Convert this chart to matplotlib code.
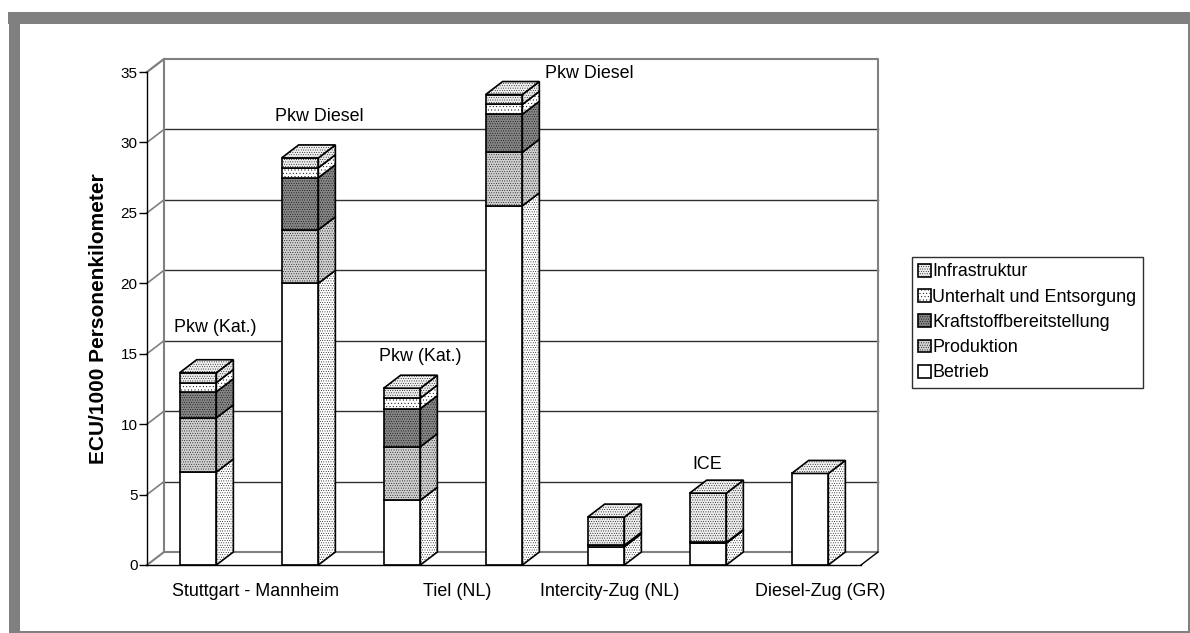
import matplotlib
matplotlib.use('Agg')
import matplotlib.pyplot as plt
import numpy as np
from matplotlib.patches import Patch, Polygon, Rectangle

plt.rcParams['font.family'] = ['Liberation Sans', 'DejaVu Sans']
plt.rcParams['hatch.linewidth'] = 0.3

# values
series_names = ['Betrieb', 'Produktion', 'Kraftstoffbereitstellung', 'Unterhalt und Entsorgung', 'Infrastruktur']
betrieb = [6.6, 20.0, 4.6, 25.5, 1.3, 1.55, 6.5]
produktion = [3.85, 3.8, 3.8, 3.8, 0.1, 0.05, 0]
kraftstoff = [1.85, 3.7, 2.7, 2.7, 0, 0, 0]
unterhalt = [0.65, 0.7, 0.75, 0.7, 0, 0, 0]
infrastruktur = [0.7, 0.7, 0.7, 0.7, 2.0, 3.5, 0]

yticks = [0, 5, 10, 15, 20, 25, 30, 35]
cat_labels = ['Stuttgart - Mannheim', 'Tiel (NL)', 'Intercity-Zug (NL)', 'Diesel-Zug (GR)']
cat_pos = [0.56, 2.54, 4.04, 6.10]
note_labels = ['Pkw (Kat.)', 'Pkw Diesel', 'Pkw (Kat.)', 'Pkw Diesel', 'ICE']
note_x = [0.167, 1.19, 2.18, 3.84, 4.99]
note_y = [16.85, 31.85, 14.8, 34.9, 7.1]

face_colors = ['white', '#cfcfcf', '#858585', 'white', '#ececec']
front_hatch = [None, '.......', '.......', '.....', '.......']
side_hatch = ['.......', '.......', '.......', '.....', '.......']

W, H = 1190, 633
fig = plt.figure(figsize=(W / 100, H / 100), dpi=100)

# grey frame
for x0, y0, w, h in [(8, 609, 1182, 12), (9, 0, 11, 621), (1188, 0, 2, 621), (9, 0, 1181, 2)]:
    fig.add_artist(Rectangle((x0 / W, y0 / H), w / W, h / H, transform=fig.transFigure,
                             facecolor='#808080', edgecolor='none'))

ax = fig.add_axes([147 / W, (H - 565) / H, 714 / W, 493 / H])
ax.set_xlim(-0.5, 6.5)
ax.set_ylim(0, 35)
ax.set_facecolor('none')

dx = 17 / 102.0
dy = 13 / 14.086
bw = 0.36
x = np.arange(7)
wall = '#808080'

# back wall, floor and gridlines
for v in yticks[1:-1]:
    ax.plot([-0.5 + dx, 6.5 + dx], [v + dy, v + dy], color='#303030', lw=1, clip_on=False, zorder=1)
    ax.plot([-0.5, -0.5 + dx], [v, v + dy], color=wall, lw=1.2, clip_on=False, zorder=1)
ax.plot([-0.5, -0.5 + dx, 6.5 + dx, 6.5 + dx, -0.5 + dx, -0.5 + dx],
        [35, 35 + dy, 35 + dy, dy, dy, 35 + dy], color=wall, lw=1.5, clip_on=False, zorder=1)
ax.plot([-0.5, -0.5 + dx], [35, 35 + dy], color=wall, lw=1.2, clip_on=False, zorder=1)
ax.plot([-0.5, -0.5 + dx], [0, dy], color=wall, lw=1.5, clip_on=False, zorder=1)
ax.plot([6.5, 6.5 + dx], [0, dy], color='black', lw=1, clip_on=False, zorder=1)

# stacked 3d bars
all_series = [betrieb, produktion, kraftstoff, unterhalt, infrastruktur]
bottom = np.zeros(7)
for k, vals in enumerate(all_series):
    vals = np.array(vals, dtype=float)
    for i in x:
        if vals[i] == 0:
            continue
        b = bottom[i]
        t = b + vals[i]
        xr = i + bw / 2
        ax.add_patch(Polygon([(xr, b), (xr + dx, b + dy), (xr + dx, t + dy), (xr, t)],
                             facecolor=face_colors[k], hatch=side_hatch[k], edgecolor='black',
                             lw=1.2, zorder=3, clip_on=False))
    ax.bar(x, vals, bw, bottom=bottom, color=face_colors[k], hatch=front_hatch[k],
           edgecolor='black', linewidth=1.2, zorder=4)
    bottom = bottom + vals

# top faces
for i in x:
    t = bottom[i]
    xl, xr = i - bw / 2, i + bw / 2
    ax.add_patch(Polygon([(xl, t), (xr, t), (xr + dx, t + dy), (xl + dx, t + dy)],
                         facecolor='#f0f0f0', hatch='.......', edgecolor='black',
                         lw=1.2, zorder=5, clip_on=False))

for s in ['top', 'right']:
    ax.spines[s].set_visible(False)
ax.spines['left'].set_linewidth(1)
ax.spines['bottom'].set_linewidth(1)
ax.spines['bottom'].set_zorder(6)

ax.set_yticks(yticks)
ax.tick_params(axis='y', length=5.8, width=1, labelsize=11, pad=1)
ax.set_xticks(cat_pos)
ax.set_xticklabels(cat_labels)
ax.tick_params(axis='x', length=0, labelsize=12.9, pad=13)
ax.set_ylabel('ECU/1000 Personenkilometer', fontsize=15, fontweight='bold', labelpad=9)

for lab, nx, ny in zip(note_labels, note_x, note_y):
    ax.text(nx, ny, lab, ha='center', va='center', fontsize=12.9, zorder=7, clip_on=False)

# legend, same order as in the reference (top of stack first)
handles = [Patch(facecolor=face_colors[k], hatch=front_hatch[k], edgecolor='black', linewidth=1.2,
                 label=series_names[k]) for k in range(4, -1, -1)]
fig.legend(handles=handles, loc='upper left', bbox_to_anchor=(912 / W, (H - 257) / H),
           fontsize=12.9, frameon=True, fancybox=False, edgecolor='#303030', framealpha=1,
           handlelength=0.72, handleheight=0.72, handletextpad=0.05, labelspacing=0.46,
           borderpad=0.36, borderaxespad=0)

fig.savefig('out.png', dpi=100, facecolor='white')
